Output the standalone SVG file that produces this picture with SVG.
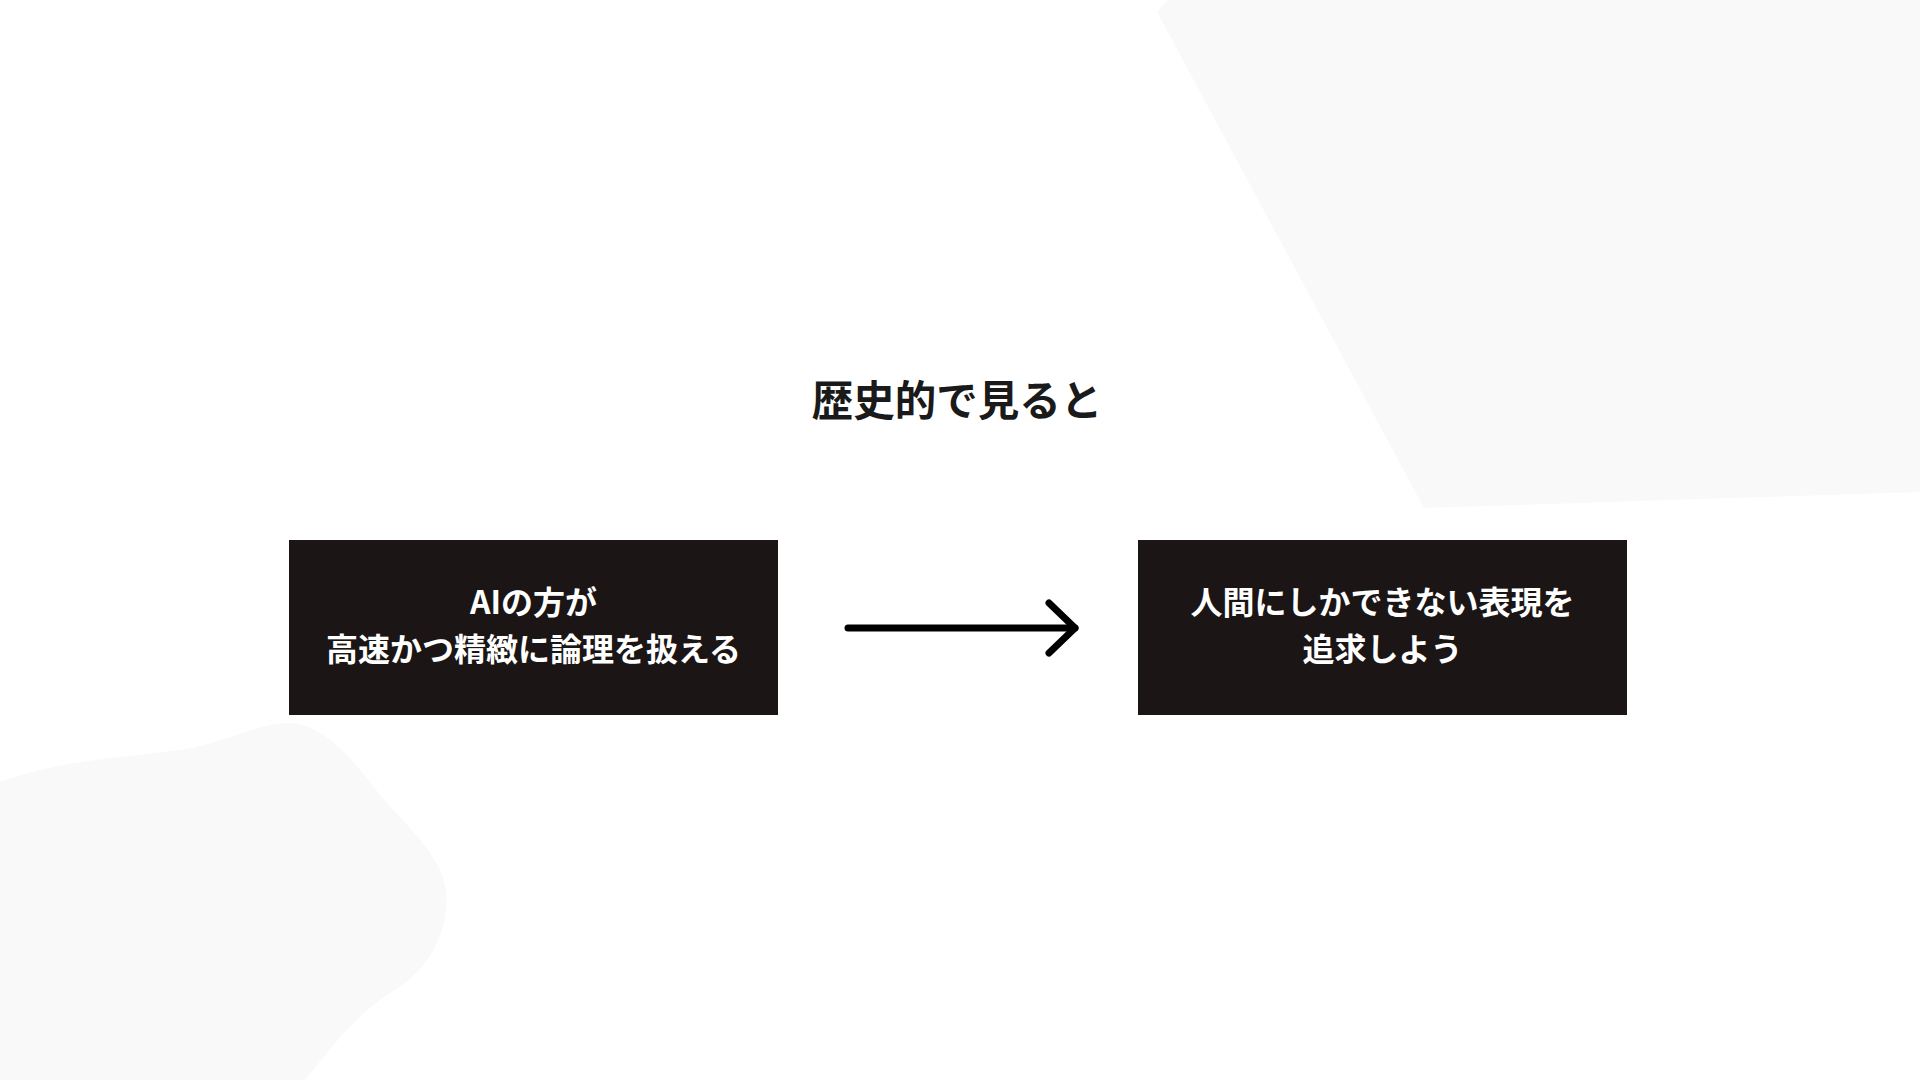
<svg xmlns="http://www.w3.org/2000/svg" width="1920" height="1080" viewBox="0 0 1920 1080">
<style>
.bg{fill:#f9f9f9}
.box{fill:#1b1615}
.lbl{font-family:"Noto Sans CJK JP","Noto Sans",sans-serif;font-weight:700;fill:#ffffff;font-size:32px;text-anchor:middle;dominant-baseline:central}
.title{font-family:"Noto Sans CJK JP","Noto Sans",sans-serif;font-weight:700;fill:#1a1a1a;font-size:41.5px;text-anchor:middle;dominant-baseline:central}
.conn{fill:none;stroke:#000;stroke-width:7;stroke-linecap:round;stroke-linejoin:round}
</style>
<rect width="1920" height="1080" fill="#ffffff"/>
<g id="background">
<polygon class="bg" points="1168,0 1920,0 1920,492 1424,508 1157,12"/>
<path class="bg" d="M0,782 C60,760 120,758 180,750 C230,742 260,722 290,723 C320,725 345,750 370,782 C400,822 440,850 446,890 C450,930 430,970 390,993 C350,1020 330,1050 305,1080 L0,1080 Z"/>
</g>
<g id="title">
<text class="title" x="957" y="398">歴史的で見ると</text>
</g>
<g id="node-ai">
<rect class="box" x="289" y="540" width="489" height="175"/>
<text class="lbl" x="533.5" y="600">AIの方が</text>
<text class="lbl" x="533.5" y="647">高速かつ精緻に論理を扱える</text>
</g>
<g id="node-human">
<rect class="box" x="1138" y="540" width="489" height="175"/>
<text class="lbl" x="1382.5" y="600">人間にしかできない表現を</text>
<text class="lbl" x="1382.5" y="647">追求しよう</text>
</g>
<g id="connectors">
<path class="conn" d="M848,628 L1075,628"/>
<path class="conn" d="M1049,603 L1075,628 L1049,653"/>
</g>
</svg>
